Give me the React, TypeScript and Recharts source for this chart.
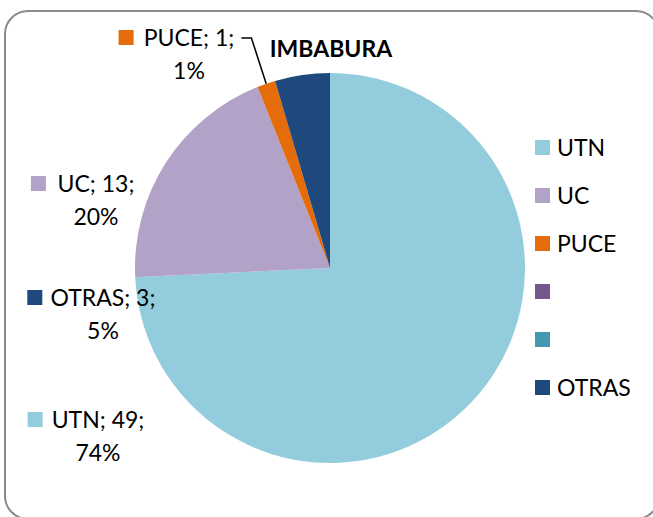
import React from "react";
import { PieChart, Pie, Cell, Legend } from "recharts";

// values
const names = ["UTN", "UC", "PUCE", "", "", "OTRAS"];
const counts = [49, 13, 1, 0, 0, 3];
const pctLabels = ["74%", "20%", "1%", "", "", "5%"];
const colors = ["#93CDDD", "#B3A2C7", "#E46C0A", "#73588E", "#4399B0", "#1F497D"];

const data = names.map((name, i) => ({ name, value: counts[i], pct: pctLabels[i] }));

// where Excel's hand-placed data labels sit (text centre x, first baseline y)
const labelSpots: Record<number, { x: number; y: number; line?: boolean }> = {
  0: { x: 98, y: 428 },
  1: { x: 96, y: 192 },
  2: { x: 189, y: 46, line: true },
  5: { x: 103, y: 306 },
};

const FONT = "Lato, 'Liberation Sans', sans-serif";
const RAD = Math.PI / 180;

const renderLabel = (props: any) => {
  const { index, value, name, midAngle, cx, cy, outerRadius, payload } = props;
  const spot = labelSpots[index];
  if (!spot || !value) return null;
  const line1 = `${name}; ${value};`;
  const w = line1.length * 10.6;
  const sx = spot.x - w / 2 - 28;
  let leader = null;
  if (spot.line) {
    const ex = cx + outerRadius * Math.cos(-midAngle * RAD);
    const ey = cy + outerRadius * Math.sin(-midAngle * RAD);
    const lx = spot.x + w / 2 + 10;
    leader = (
      <polyline
        points={`${lx},${spot.y - 8} ${lx + 10},${spot.y - 8} ${ex},${ey}`}
        fill="none"
        stroke="#000"
        strokeWidth={1.5}
      />
    );
  }
  return (
    <g>
      {leader}
      <rect x={sx} y={spot.y - 16} width={15} height={15} fill={colors[index]} />
      <text x={spot.x} y={spot.y} textAnchor="middle" fontFamily={FONT} fontSize={23} fill="#000">
        {line1}
      </text>
      <text x={spot.x} y={spot.y + 33} textAnchor="middle" fontFamily={FONT} fontSize={23} fill="#000">
        {payload.pct}
      </text>
    </g>
  );
};

const renderLegend = () => (
  <div style={{ fontFamily: FONT, fontSize: 23, color: "#000" }}>
    {names.map((n, i) => (
      <div key={i} style={{ height: 48, display: "flex", alignItems: "center" }}>
        <span style={{ width: 15, height: 15, background: colors[i], display: "inline-block", marginRight: 7 }} />
        <span>{n}</span>
      </div>
    ))}
  </div>
);

export default function App() {
  return (
    <div style={{ position: "absolute", left: 0, top: 0, width: 653, height: 517, overflow: "hidden", background: "#fff" }}>
      <div
        style={{
          position: "absolute",
          left: 4,
          top: 10,
          width: 656,
          height: 510,
          border: "2px solid #8a8a8a",
          borderRadius: 24,
          boxSizing: "border-box",
        }}
      />
      <div style={{ position: "absolute", left: 0, top: 0 }}>
        <PieChart width={653} height={517} margin={{ top: 0, right: 0, bottom: 0, left: 0 }}>
          <text x={331} y={57} textAnchor="middle" fontFamily={FONT} fontSize={23} fontWeight="bold" fill="#000">
            IMBABURA
          </text>
          <Pie
            data={data}
            dataKey="value"
            nameKey="name"
            cx={330}
            cy={268}
            outerRadius={195}
            startAngle={90}
            endAngle={-270}
            stroke="none"
            label={renderLabel}
            labelLine={false}
            isAnimationActive={false}
          >
            {data.map((d, i) => (
              <Cell key={i} fill={colors[i]} />
            ))}
          </Pie>
          <Legend
            layout="vertical"
            align="right"
            verticalAlign="top"
            content={renderLegend}
            wrapperStyle={{ left: 535, top: 123, width: 110 }}
          />
        </PieChart>
      </div>
    </div>
  );
}
